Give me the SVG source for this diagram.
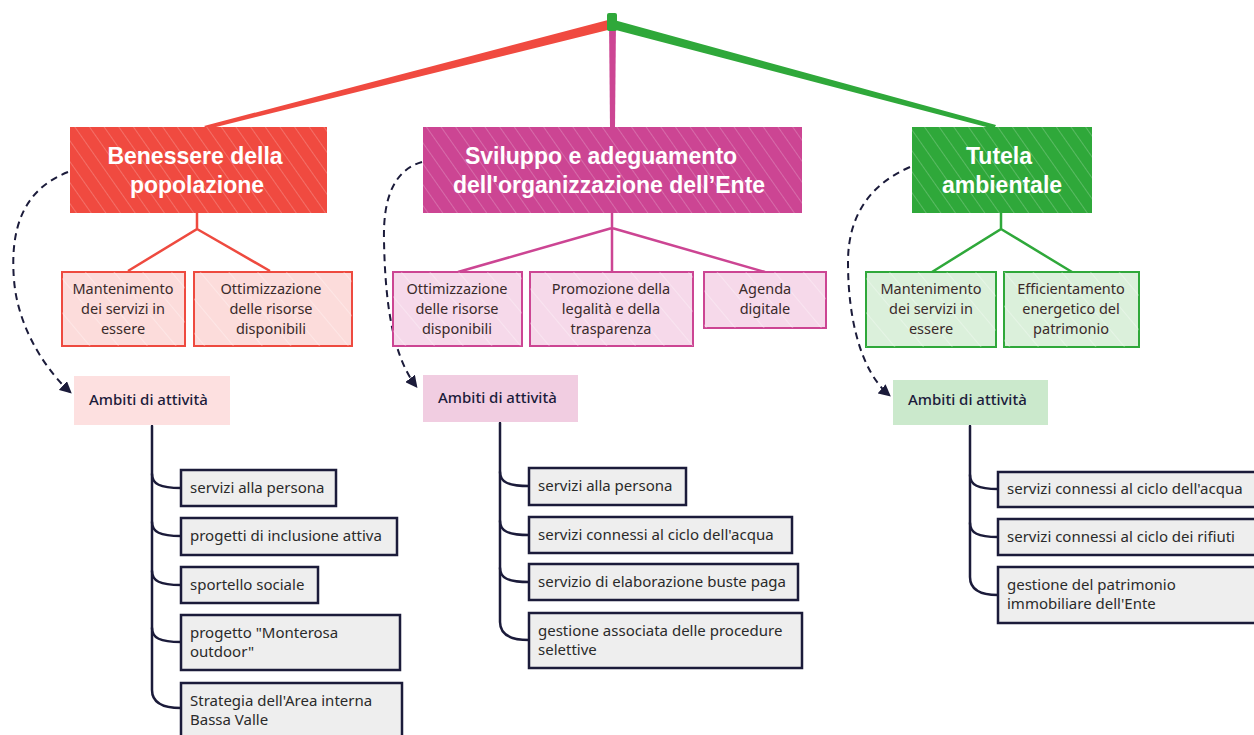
<svg xmlns="http://www.w3.org/2000/svg" width="1254" height="735" viewBox="0 0 1254 735">
<defs>
<pattern id="hatch" width="12" height="12" patternUnits="userSpaceOnUse" patternTransform="rotate(-35)">
<line x1="0" y1="0" x2="0" y2="12" stroke="#ffffff" stroke-opacity="0.35" stroke-width="1.2"/>
</pattern>
<pattern id="hatchLight" width="22" height="22" patternUnits="userSpaceOnUse" patternTransform="rotate(-40)">
<line x1="0" y1="0" x2="0" y2="22" stroke="#ffffff" stroke-opacity="0.6" stroke-width="1"/>
</pattern>
<marker id="arr" viewBox="0 0 10 10" refX="8" refY="5" markerWidth="6" markerHeight="6" orient="auto-start-reverse">
<path d="M0,0 L10,5 L0,10 z" fill="#1b1b3a"/>
</marker>
<style>
.title{font-family:"Liberation Sans",Arial,sans-serif;font-weight:bold;font-size:23px;fill:#ffffff;text-anchor:middle}
.sub{font-family:"Noto Sans","Liberation Sans",sans-serif;font-size:14.5px;fill:#3a2a2a;text-anchor:middle}
.amb{font-family:"Noto Sans","Liberation Sans",sans-serif;font-size:15px;fill:#1b1b3a;font-weight:500}
.leaf{font-family:"Noto Sans","Liberation Sans",sans-serif;font-size:15px;fill:#2a2a2a}
.leafbox{fill:#eeeeee;stroke:#1b1b3a;stroke-width:2.5}
.tree{fill:none;stroke:#1b1b3a;stroke-width:2.5;stroke-linecap:round}
.dash{fill:none;stroke:#1b1b3a;stroke-width:2;stroke-dasharray:7 5}
.rc{stroke:#ee4a3f;stroke-width:2.5;fill:none}
.pc{stroke:#cc4593;stroke-width:2.5;fill:none}
.gc{stroke:#2fa83a;stroke-width:2.5;fill:none}
</style>
</defs>
<rect width="1254" height="735" fill="#ffffff"/>

<g id="connectors">
<polygon points="608,20 612,29 208,129 204,126" fill="#f04a40"/>
<polygon points="609,20 616,20 615,128 610,128" fill="#cc4593"/>
<polygon points="614,20 612,29 994,129 996,125" fill="#2fa83a"/>
<rect x="607" y="13" width="10" height="18" rx="2" fill="#2fa83a"/>
<path class="rc" d="M197,213 V229 L128,271 M197,229 L270,271"/>
<path class="pc" d="M612,213 V228 L458,272 M612,228 V272 M612,228 L765,272"/>
<path class="gc" d="M1001,213 V229 L932,272 M1001,229 L1072,272"/>
<path class="dash" marker-end="url(#arr)" d="M68,172 C22,190 10,230 14,280 C18,330 48,372 70,392"/>
<path class="dash" marker-end="url(#arr)" d="M422,162 C394,170 383,198 384,240 C385,300 392,355 416,386"/>
<path class="dash" marker-end="url(#arr)" d="M910,167 C868,185 848,218 848,262 C848,322 862,372 889,395"/>
<path class="tree" d="M152,426 V690 C152,702 162,708 181,708"/>
<path class="tree" d="M152,474 C152,484 160,488 181,488 M152,522 C152,532 160,536 181,536 M152,571 C152,581 160,585 181,585 M152,628 C152,638 160,642 181,642"/>
<path class="tree" d="M500,423 V622 C500,634 510,640 529,640"/>
<path class="tree" d="M500,472 C500,482 508,486 529,486 M500,521 C500,531 508,535 529,535 M500,568 C500,578 508,582 529,582"/>
<path class="tree" d="M970,426 V577 C970,589 980,595 998,595"/>
<path class="tree" d="M970,475 C970,485 978,489 998,489 M970,523 C970,533 978,537 998,537"/>
</g>

<g id="n-benessere">
<rect x="70" y="127" width="257" height="86" fill="#f04a40"/>
<rect x="70" y="127" width="257" height="86" fill="url(#hatch)"/>
<text class="title" x="195" y="164">Benessere della</text>
<text class="title" x="197" y="193">popolazione</text>
</g>
<g id="n-sviluppo">
<rect x="423" y="127" width="379" height="86" fill="#cc4593"/>
<rect x="423" y="127" width="379" height="86" fill="url(#hatch)"/>
<text class="title" x="601" y="164">Sviluppo e adeguamento</text>
<text class="title" x="609" y="193">dell'organizzazione dell’Ente</text>
</g>
<g id="n-tutela">
<rect x="912" y="127" width="180" height="86" fill="#2fa83a"/>
<rect x="912" y="127" width="180" height="86" fill="url(#hatch)"/>
<text class="title" x="999" y="164">Tutela</text>
<text class="title" x="1002" y="193">ambientale</text>
</g>

<g id="r1">
<rect x="62" y="272" width="123" height="74" fill="#fcdcdb" stroke="#ee4a3f" stroke-width="2"/>
<rect x="62" y="272" width="123" height="74" fill="url(#hatchLight)"/>
<text class="sub" x="123" y="294">Mantenimento</text>
<text class="sub" x="123" y="314">dei servizi in</text>
<text class="sub" x="123" y="334">essere</text>
</g>
<g id="r2">
<rect x="194" y="272" width="158" height="74" fill="#fcdcdb" stroke="#ee4a3f" stroke-width="2"/>
<rect x="194" y="272" width="158" height="74" fill="url(#hatchLight)"/>
<text class="sub" x="271" y="294">Ottimizzazione</text>
<text class="sub" x="271" y="314">delle risorse</text>
<text class="sub" x="271" y="334">disponibili</text>
</g>
<g id="p1">
<rect x="393" y="272" width="129" height="74" fill="#f6d9ea" stroke="#cc4593" stroke-width="2"/>
<rect x="393" y="272" width="129" height="74" fill="url(#hatchLight)"/>
<text class="sub" x="457" y="294">Ottimizzazione</text>
<text class="sub" x="457" y="314">delle risorse</text>
<text class="sub" x="457" y="334">disponibili</text>
</g>
<g id="p2">
<rect x="530" y="272" width="163" height="74" fill="#f6d9ea" stroke="#cc4593" stroke-width="2"/>
<rect x="530" y="272" width="163" height="74" fill="url(#hatchLight)"/>
<text class="sub" x="611" y="294">Promozione della</text>
<text class="sub" x="611" y="314">legalità e della</text>
<text class="sub" x="611" y="334">trasparenza</text>
</g>
<g id="p3">
<rect x="704" y="272" width="122" height="56" fill="#f6d9ea" stroke="#cc4593" stroke-width="2"/>
<rect x="704" y="272" width="122" height="56" fill="url(#hatchLight)"/>
<text class="sub" x="765" y="294">Agenda</text>
<text class="sub" x="765" y="314">digitale</text>
</g>
<g id="g1">
<rect x="866" y="272" width="130" height="75" fill="#dbf0db" stroke="#2fa83a" stroke-width="2"/>
<rect x="866" y="272" width="130" height="75" fill="url(#hatchLight)"/>
<text class="sub" x="931" y="294">Mantenimento</text>
<text class="sub" x="931" y="314">dei servizi in</text>
<text class="sub" x="931" y="334">essere</text>
</g>
<g id="g2">
<rect x="1004" y="272" width="135" height="75" fill="#dbf0db" stroke="#2fa83a" stroke-width="2"/>
<rect x="1004" y="272" width="135" height="75" fill="url(#hatchLight)"/>
<text class="sub" x="1071" y="294">Efficientamento</text>
<text class="sub" x="1071" y="314">energetico del</text>
<text class="sub" x="1071" y="334">patrimonio</text>
</g>

<g id="a-red">
<rect x="74" y="376" width="156" height="49" fill="#fde0e0"/>
<text class="amb" x="89" y="405">Ambiti di attività</text>
</g>
<g id="a-pink">
<rect x="423" y="375" width="155" height="47" fill="#f1cde1"/>
<text class="amb" x="438" y="403">Ambiti di attività</text>
</g>
<g id="a-green">
<rect x="893" y="380" width="155" height="45" fill="#cbe9cc"/>
<text class="amb" x="908" y="405">Ambiti di attività</text>
</g>

<g id="l-r1"><rect class="leafbox" x="181" y="470" width="155" height="36"/><text class="leaf" x="190" y="493">servizi alla persona</text></g>
<g id="l-r2"><rect class="leafbox" x="181" y="518" width="216" height="37"/><text class="leaf" x="190" y="541">progetti di inclusione attiva</text></g>
<g id="l-r3"><rect class="leafbox" x="181" y="567" width="137" height="36"/><text class="leaf" x="190" y="590">sportello sociale</text></g>
<g id="l-r4"><rect class="leafbox" x="181" y="615" width="219" height="55"/><text class="leaf" x="190" y="638">progetto "Monterosa</text><text class="leaf" x="190" y="657">outdoor"</text></g>
<g id="l-r5"><rect class="leafbox" x="181" y="683" width="221" height="60"/><text class="leaf" x="190" y="706">Strategia dell'Area interna</text><text class="leaf" x="190" y="725">Bassa Valle</text></g>

<g id="l-p1"><rect class="leafbox" x="529" y="468" width="157" height="37"/><text class="leaf" x="538" y="491">servizi alla persona</text></g>
<g id="l-p2"><rect class="leafbox" x="529" y="517" width="263" height="36"/><text class="leaf" x="538" y="540">servizi connessi al ciclo dell'acqua</text></g>
<g id="l-p3"><rect class="leafbox" x="529" y="564" width="269" height="36"/><text class="leaf" x="538" y="587">servizio di elaborazione buste paga</text></g>
<g id="l-p4"><rect class="leafbox" x="529" y="613" width="273" height="55"/><text class="leaf" x="538" y="636">gestione associata delle procedure</text><text class="leaf" x="538" y="655">selettive</text></g>

<g id="l-g1"><rect class="leafbox" x="998" y="472" width="262" height="35"/><text class="leaf" x="1007" y="494">servizi connessi al ciclo dell'acqua</text></g>
<g id="l-g2"><rect class="leafbox" x="998" y="519" width="262" height="36"/><text class="leaf" x="1007" y="542">servizi connessi al ciclo dei rifiuti</text></g>
<g id="l-g3"><rect class="leafbox" x="998" y="567" width="262" height="56"/><text class="leaf" x="1007" y="590">gestione del patrimonio</text><text class="leaf" x="1007" y="609">immobiliare dell'Ente</text></g>
</svg>
